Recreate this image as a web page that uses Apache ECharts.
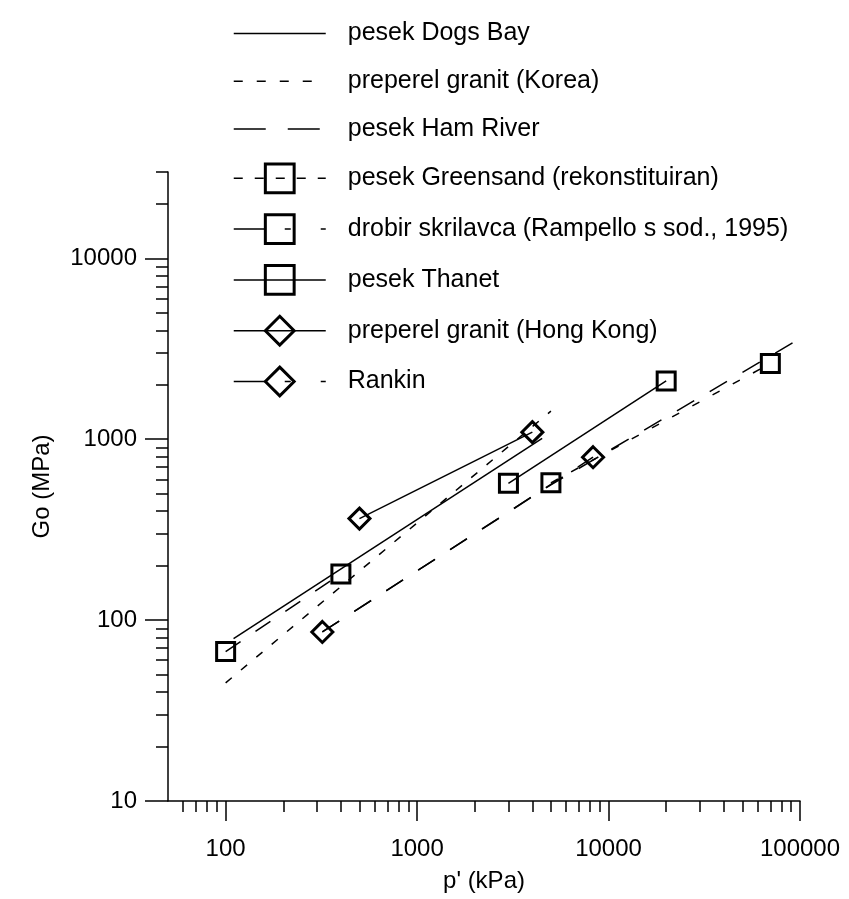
<!DOCTYPE html>
<html>
<head>
<meta charset="utf-8">
<script src="https://cdn.jsdelivr.net/npm/echarts@6/dist/echarts.min.js"></script>
<style>
html,body{margin:0;padding:0;background:#fff;}
#chart{width:849px;height:899px;}
</style>
</head>
<body>
<div id="chart"></div>
<script>
// ---- data (p' in kPa, Go in MPa) ----
const seriesNames = [
  'pesek Dogs Bay',
  'preperel granit (Korea)',
  'pesek Ham River',
  'pesek Greensand (rekonstituiran)',
  'drobir skrilavca (Rampello s sod., 1995)',
  'pesek Thanet',
  'preperel granit (Hong Kong)',
  'Rankin'
];
const dogsBayP = [110, 4500];
const dogsBayG = [79, 1010];
const koreaP = [100, 5000];
const koreaG = [45, 1430];
const hamRiverP = [320, 5000, 100000];
const hamRiverG = [86, 560, 3600];
const greensandP = [5000, 70000];
const greensandG = [574, 2620];
const drobirP = [100, 400];
const drobirG = [67, 180];
const thanetP = [3000, 20000];
const thanetG = [570, 2100];
const hongKongP = [500, 4000];
const hongKongG = [364, 1094];
const rankinP = [320, 8300];
const rankinG = [86, 795];

const xMajorTicks = [100, 1000, 10000, 100000];
const xMinorTicks = [60, 70, 80, 90, 200, 300, 400, 500, 600, 700, 800, 900,
  2000, 3000, 4000, 5000, 6000, 7000, 8000, 9000,
  20000, 30000, 40000, 50000, 60000, 70000, 80000, 90000];
const yMajorTicks = [10, 100, 1000, 10000];
const yMinorTicks = [20, 30, 40, 50, 60, 70, 80, 90, 200, 300, 400, 500, 600, 700, 800, 900,
  2000, 3000, 4000, 5000, 6000, 7000, 8000, 9000, 20000, 30000];

function pairs(xs, ys) { return xs.map((x, i) => [x, ys[i]]); }

const FONT = 'Liberation Sans, Arial, sans-serif';
const FS = 24;
const LFS = 25;

const noMarkItem = { color: 'transparent', borderColor: 'transparent', borderWidth: 0 };
const markItem = { color: 'transparent', borderColor: '#000', borderWidth: 3 };

function mk(name, xs, ys, dash, symbol, symSize) {
  return {
    name: name,
    type: 'line',
    xAxisIndex: 0, yAxisIndex: 0,
    data: pairs(xs, ys),
    symbol: symbol || 'none',
    symbolSize: symSize || 0,
    showSymbol: !!symbol,
    itemStyle: symbol ? markItem : noMarkItem,
    lineStyle: { color: '#000', width: 1.5, type: dash },
    emphasis: { disabled: true },
    animation: false,
    z: 3
  };
}

const series = [
  mk(seriesNames[0], dogsBayP, dogsBayG, 'solid'),
  mk(seriesNames[1], koreaP, koreaG, [8, 12]),
  mk(seriesNames[2], hamRiverP, hamRiverG, [20, 18]),
  mk(seriesNames[3], greensandP, greensandG, [8, 15], 'rect', 18),
  mk(seriesNames[4], drobirP, drobirG, [18, 18], 'rect', 18),
  mk(seriesNames[5], thanetP, thanetG, 'solid', 'rect', 18),
  mk(seriesNames[6], hongKongP, hongKongG, 'solid', 'diamond', 21),
  mk(seriesNames[7], rankinP, rankinG, [20, 18], 'diamond', 21)
];

const legendMarkItem = { color: 'transparent', borderColor: '#000', borderWidth: 3 };
const legendData = [
  { name: seriesNames[0], itemStyle: noMarkItem, lineStyle: { type: 'solid' } },
  { name: seriesNames[1], itemStyle: noMarkItem, lineStyle: { type: [9, 14] } },
  { name: seriesNames[2], itemStyle: noMarkItem, lineStyle: { type: [32, 22] } },
  { name: seriesNames[3], itemStyle: legendMarkItem, lineStyle: { type: [9, 12] } },
  { name: seriesNames[4], itemStyle: legendMarkItem, lineStyle: { type: [32, 19, 6, 30] } },
  { name: seriesNames[5], itemStyle: legendMarkItem, lineStyle: { type: 'solid' } },
  { name: seriesNames[6], itemStyle: legendMarkItem, lineStyle: { type: 'solid' } },
  { name: seriesNames[7], itemStyle: legendMarkItem, lineStyle: { type: [32, 19, 6, 30] } }
];

const labelFmt = v => String(Math.round(v));

const option = {
  backgroundColor: '#fff',
  animation: false,
  textStyle: { fontFamily: FONT, color: '#000' },
  legend: {
    orient: 'vertical',
    left: 228,
    top: 14,
    itemWidth: 92,
    itemHeight: 36,
    itemGap: 19,
    data: legendData,
    selectedMode: false,
    textStyle: { fontFamily: FONT, fontSize: LFS, color: '#000', padding: [0, 0, 0, 17] },
    lineStyle: { width: 1.5 }
  },
  grid: { left: 168, right: 49, top: 172, bottom: 98, containLabel: false },
  xAxis: [
    {
      type: 'log', logBase: 10, min: 50, max: 100000, position: 'bottom',
      axisLine: { show: true, lineStyle: { color: '#000', width: 1.5 } },
      axisTick: { show: true, customValues: xMajorTicks, length: 20, inside: false, lineStyle: { color: '#000', width: 1.5 } },
      axisLabel: { show: true, customValues: xMajorTicks, formatter: labelFmt, margin: 36, fontSize: FS, color: '#000', fontFamily: FONT },
      splitLine: { show: false },
      minorTick: { show: false },
      name: "p' (kPa)", nameLocation: 'middle', nameGap: 68,
      nameTextStyle: { fontSize: FS, color: '#000', fontFamily: FONT }
    },
    {
      type: 'log', logBase: 10, min: 50, max: 100000, position: 'bottom', gridIndex: 0,
      axisLine: { show: false },
      axisTick: { show: true, customValues: xMinorTicks, length: 11, inside: false, lineStyle: { color: '#000', width: 1.5 } },
      axisLabel: { show: false },
      splitLine: { show: false }
    }
  ],
  yAxis: [
    {
      type: 'log', logBase: 10, min: 10, max: 30000, position: 'left',
      axisLine: { show: true, lineStyle: { color: '#000', width: 1.5 } },
      axisTick: { show: true, customValues: yMajorTicks, length: 23, inside: false, lineStyle: { color: '#000', width: 1.5 } },
      axisLabel: { show: true, customValues: yMajorTicks, formatter: labelFmt, margin: 31, fontSize: FS, color: '#000', fontFamily: FONT },
      splitLine: { show: false },
      name: 'Go (MPa)', nameLocation: 'middle', nameGap: 114, nameRotate: 90,
      nameTextStyle: { fontSize: FS, color: '#000', fontFamily: FONT }
    },
    {
      type: 'log', logBase: 10, min: 10, max: 30000, position: 'left', gridIndex: 0,
      axisLine: { show: false },
      axisTick: { show: true, customValues: yMinorTicks, length: 12, inside: false, lineStyle: { color: '#000', width: 1.5 } },
      axisLabel: { show: false },
      splitLine: { show: false }
    }
  ],
  series: series
};

const chart = echarts.init(document.getElementById('chart'), null, { renderer: 'canvas' });
chart.setOption(option);
</script>
</body>
</html>
